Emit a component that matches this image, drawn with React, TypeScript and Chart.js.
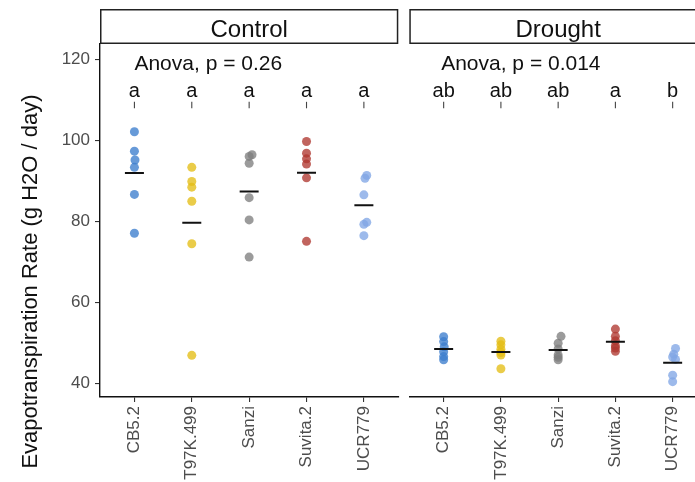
import React, { useEffect, useRef } from 'react';
import { Chart, registerables } from 'chart.js';

Chart.register(...registerables);

const FONT = '"Liberation Sans", Arial, Helvetica, sans-serif';

// ---------- data ----------
const categories = ['CB5.2', 'T97K.499', 'Sanzi', 'Suvita.2', 'UCR779'];
const panels = ['Control', 'Drought'];
const yTicks = [40, 60, 80, 100, 120];

const controlCB52 = [102.2, 97.4, 95.2, 93.4, 86.7, 77.1];
const controlT97K = [93.4, 89.9, 88.5, 85.0, 74.5, 46.9];
const controlSanzi = [96.5, 96.1, 94.4, 85.9, 80.4, 71.2];
const controlSuvita = [99.8, 96.9, 95.5, 94.2, 90.8, 75.1];
const controlUCR = [91.4, 90.7, 86.6, 79.8, 79.3, 76.5];

const droughtCB52 = [51.5, 50.3, 49.0, 47.8, 46.6, 45.8];
const droughtT97K = [50.4, 49.5, 48.4, 47.6, 47.0, 43.6];
const droughtSanzi = [51.6, 49.9, 48.5, 47.0, 46.4, 45.8];
const droughtSuvita = [53.4, 51.6, 50.5, 49.3, 48.7, 47.9];
const droughtUCR = [48.6, 47.2, 46.5, 45.9, 42.0, 40.4];

// small horizontal jitter (category units)
const jitterCB52 = [0.0, 0.0, 0.01, 0.0, 0.0, 0.0];
const jitterT97K = [0.0, 0.0, 0.0, 0.0, 0.0, 0.0];
const jitterSanzi = [0.05, 0.0, 0.0, 0.0, 0.0, 0.0];
const jitterSuvita = [0.0, 0.0, 0.0, 0.0, 0.0, 0.0];
const jitterUCR = [0.05, 0.02, 0.0, 0.05, 0.0, 0.0];

const controlLetters = ['a', 'a', 'a', 'a', 'a'];
const droughtLetters = ['ab', 'ab', 'ab', 'a', 'b'];
const anovaLabels = ['Anova, p = 0.26', 'Anova, p = 0.014'];

const colors = [
  'rgba(60,125,205,0.78)',
  'rgba(228,190,22,0.78)',
  'rgba(127,127,127,0.78)',
  'rgba(176,56,49,0.78)',
  'rgba(130,166,229,0.78)',
];

const yTitle = 'Evapotranspiration Rate (g H2O / day)';

const controlSeries = [controlCB52, controlT97K, controlSanzi, controlSuvita, controlUCR];
const droughtSeries = [droughtCB52, droughtT97K, droughtSanzi, droughtSuvita, droughtUCR];
const jitters = [jitterCB52, jitterT97K, jitterSanzi, jitterSuvita, jitterUCR];

// label positions in data units
const anovaY = 117.45;
const letterY = 110.85;
const barTopY = 109.6;
const barBottomY = 108.0;

const Y_MIN = 36.6;
const Y_MAX = 123.9;

const mean = (a: number[]) => a.reduce((s, v) => s + v, 0) / a.length;

function makeConfig(panelIdx: number, showY: boolean): any {
  const series = panelIdx === 0 ? controlSeries : droughtSeries;
  const letters = panelIdx === 0 ? controlLetters : droughtLetters;

  const datasets: any[] = [
    {
      type: 'scatter',
      label: 'mean',
      order: 0,
      data: series.map((vals, i) => ({ x: i + 1, y: mean(vals) })),
      pointStyle: 'line',
      pointRadius: 9.5,
      borderWidth: 2,
      borderColor: '#111',
      backgroundColor: '#111',
    },
    ...series.map((vals, i) => ({
      type: 'scatter',
      label: categories[i],
      order: 1,
      data: vals.map((v, j) => ({ x: i + 1 + jitters[i][j], y: v })),
      pointRadius: 4.5,
      borderWidth: 0,
      backgroundColor: colors[i],
      borderColor: colors[i],
    })),
  ];

  const decor = {
    id: 'decor' + panelIdx,
    afterDraw(chart: any) {
      const { ctx, chartArea, scales } = chart;
      const xs = scales.x;
      const ys = scales.y;
      ctx.save();
      // strip
      ctx.fillStyle = '#ffffff';
      ctx.fillRect(chartArea.left, 9.5, chartArea.right - chartArea.left, 34);
      ctx.strokeStyle = '#222';
      ctx.lineWidth = 1.5;
      ctx.strokeRect(chartArea.left + 0.75, 9.75, chartArea.right - chartArea.left - 1.5, 33.5);
      ctx.fillStyle = '#111';
      ctx.font = `24px ${FONT}`;
      ctx.textAlign = 'center';
      ctx.textBaseline = 'alphabetic';
      ctx.fillText(panels[panelIdx], (chartArea.left + chartArea.right) / 2, 36.5);

      // anova label
      ctx.font = `21px ${FONT}`;
      ctx.textAlign = 'left';
      ctx.fillStyle = '#111';
      ctx.fillText(
        anovaLabels[panelIdx],
        xs.getPixelForValue(1) - (panelIdx === 0 ? 0 : 2.5),
        ys.getPixelForValue(anovaY)
      );

      // letters
      ctx.font = `20px ${FONT}`;
      ctx.textAlign = 'center';
      letters.forEach((l, i) => {
        const px = xs.getPixelForValue(i + 1);
        ctx.fillStyle = '#111';
        ctx.fillText(l, px, ys.getPixelForValue(letterY));
        ctx.strokeStyle = '#444';
        ctx.lineWidth = 1.1;
        ctx.beginPath();
        ctx.moveTo(px, ys.getPixelForValue(barTopY));
        ctx.lineTo(px, ys.getPixelForValue(barBottomY));
        ctx.stroke();
      });

      // y-axis title
      if (showY) {
        ctx.save();
        ctx.translate(37, 281.5);
        ctx.rotate(-Math.PI / 2);
        ctx.font = `22px ${FONT}`;
        ctx.textAlign = 'center';
        ctx.textBaseline = 'alphabetic';
        ctx.fillStyle = '#111';
        ctx.fillText(yTitle, 0, 0);
        ctx.restore();
      }
      ctx.restore();
    },
  };

  return {
    type: 'scatter',
    data: { datasets },
    options: {
      animation: false,
      responsive: false,
      events: [],
      layout: {
        autoPadding: false,
        padding: showY
          ? { top: 44, right: 3.7, left: 0, bottom: 0 }
          : { top: 44, right: 0, left: 4.3, bottom: 0 },
      },
      plugins: { legend: { display: false }, tooltip: { enabled: false }, title: { display: false } },
      scales: {
        x: {
          type: 'linear',
          min: 0.4,
          max: 5.6,
          afterBuildTicks: (s: any) => {
            s.ticks = categories.map((_, i) => ({ value: i + 1 }));
          },
          afterFit: (s: any) => {
            s.height = 85;
            s.paddingLeft = 0;
            s.paddingRight = 0;
          },
          ticks: {
            autoSkip: false,
            maxRotation: 90,
            minRotation: 90,
            padding: 4,
            color: '#4D4D4D',
            font: { family: FONT, size: 17 },
            callback: (v: any) => categories[Math.round(Number(v)) - 1] ?? '',
          },
          grid: { drawOnChartArea: false, drawTicks: true, tickLength: 5, color: '#333', lineWidth: 1.1 },
          border: { display: true, color: '#111', width: 1.4 },
        },
        y: {
          type: 'linear',
          display: showY,
          min: Y_MIN,
          max: Y_MAX,
          afterBuildTicks: (s: any) => {
            s.ticks = yTicks.map((v) => ({ value: v }));
          },
          afterFit: (s: any) => {
            s.width = showY ? 100 : 0;
            s.paddingTop = 0;
            s.paddingBottom = 0;
          },
          ticks: {
            padding: 5,
            color: '#4D4D4D',
            font: { family: FONT, size: 17 },
            callback: (v: any) => String(v),
          },
          grid: { drawOnChartArea: false, drawTicks: true, tickLength: 5, color: '#333', lineWidth: 1.1 },
          border: { display: showY, color: '#111', width: 1.4 },
        },
      },
    },
    plugins: [decor],
  };
}

export default function App() {
  const leftRef = useRef<HTMLCanvasElement | null>(null);
  const rightRef = useRef<HTMLCanvasElement | null>(null);

  useEffect(() => {
    const c1 = new Chart(leftRef.current as HTMLCanvasElement, makeConfig(0, true));
    const c2 = new Chart(rightRef.current as HTMLCanvasElement, makeConfig(1, false));
    return () => {
      c1.destroy();
      c2.destroy();
    };
  }, []);

  return (
    <div
      style={{
        position: 'fixed',
        left: 0,
        top: 0,
        width: 695,
        height: 482,
        overflow: 'hidden',
        background: '#fff',
      }}
    >
      <canvas
        ref={leftRef}
        width={402}
        height={482}
        style={{ position: 'absolute', left: 0, top: 0, width: 402, height: 482 }}
      />
      <canvas
        ref={rightRef}
        width={302}
        height={482}
        style={{ position: 'absolute', left: 405, top: 0, width: 302, height: 482 }}
      />
    </div>
  );
}
